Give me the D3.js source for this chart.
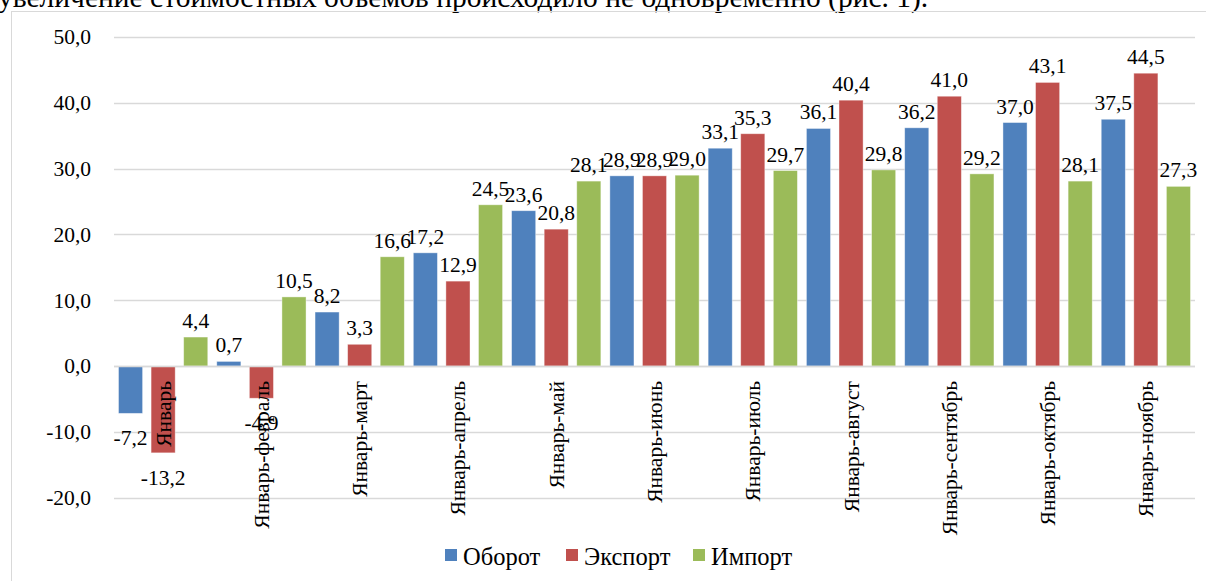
<!DOCTYPE html>
<html lang="ru">
<head>
    <meta charset="UTF-8">
    <title>Оборот, экспорт, импорт</title>
    <style>
        body {
            margin: 0;
            background: #ffffff;
            overflow: hidden;
        }
    </style>
</head>
<body>
    <svg id="chart" width="1206" height="581"></svg>

    <script src="https://d3js.org/d3.v7.min.js"></script>
    <script>
        // data
        const categories = ["Январь", "Январь-февраль", "Январь-март", "Январь-апрель", "Январь-май",
            "Январь-июнь", "Январь-июль", "Январь-август", "Январь-сентябрь", "Январь-октябрь", "Январь-ноябрь"];
        const seriesNames = ["Оборот", "Экспорт", "Импорт"];
        const oborot  = [-7.2, 0.7, 8.2, 17.2, 23.6, 28.9, 33.1, 36.1, 36.2, 37.0, 37.5];
        const eksport = [-13.2, -4.9, 3.3, 12.9, 20.8, 28.9, 35.3, 40.4, 41.0, 43.1, 44.5];
        const import_ = [4.4, 10.5, 16.6, 24.5, 28.1, 29.0, 29.7, 29.8, 29.2, 28.1, 27.3];
        const yTicks = [-20, -10, 0, 10, 20, 30, 40, 50];
        const colors = ["#4F81BD", "#C0504D", "#9BBB59"];

        const seriesValues = [oborot, eksport, import_];
        const serif = "'Liberation Serif', 'Times New Roman', serif";

        const svg = d3.select("#chart")
            .attr("font-family", serif)
            .attr("font-size", 21.5);

        // caption line cut off at the top of the picture
        svg.append("text")
            .attr("x", -2)
            .attr("y", 7)
            .attr("font-size", 29.5)
            .text("увеличение стоимостных объемов происходило не одновременно (рис. 1).");

        // chart frame
        svg.append("rect")
            .attr("x", 11.5)
            .attr("y", 11.5)
            .attr("width", 1300)
            .attr("height", 700)
            .attr("fill", "none")
            .attr("stroke", "#d9d9d9");

        const plot = { left: 114, right: 1195, top: 37, bottom: 497.6 };

        const x = d3.scaleBand()
            .domain(categories)
            .range([plot.left, plot.right])
            .padding(0);

        const xSub = d3.scaleBand()
            .domain(seriesNames)
            .range([4.5, x.bandwidth() - 4.5])
            .paddingInner(0.26)
            .paddingOuter(0);

        const y = d3.scaleLinear()
            .domain([-20, 50])
            .range([plot.bottom, plot.top]);

        const fmt = v => d3.format(".1f")(v).replace(".", ",").replace("−", "-");

        // gridlines
        svg.append("g")
            .selectAll("line")
            .data(yTicks)
            .join("line")
            .attr("x1", plot.left)
            .attr("x2", plot.right)
            .attr("y1", d => Math.round(y(d)) + 0.5)
            .attr("y2", d => Math.round(y(d)) + 0.5)
            .attr("stroke", "#d9d9d9")
            .attr("stroke-width", 1.3);

        // y axis labels
        const yAxis = svg.append("g")
            .attr("transform", "translate(91,0)")
            .call(d3.axisLeft(y).tickValues(yTicks).tickSize(0).tickPadding(0).tickFormat(fmt));
        yAxis.attr("font-family", serif).attr("font-size", 21.5);
        yAxis.select(".domain").remove();

        const rows = categories.map((c, i) => ({
            cat: c,
            vals: seriesNames.map((s, j) => ({ series: s, idx: j, value: seriesValues[j][i] }))
        }));

        const groups = svg.append("g")
            .selectAll("g")
            .data(rows)
            .join("g")
            .attr("transform", d => `translate(${x(d.cat)},0)`);

        groups.selectAll("rect")
            .data(d => d.vals)
            .join("rect")
            .attr("x", d => xSub(d.series))
            .attr("width", xSub.bandwidth())
            .attr("y", d => y(Math.max(0, d.value)))
            .attr("height", d => Math.abs(y(d.value) - y(0)))
            .attr("fill", d => colors[d.idx])
            .attr("stroke", "#ffffff")
            .attr("stroke-opacity", 0.5)
            .attr("stroke-width", 0.8);

        // zero line on top of bars
        svg.append("line")
            .attr("x1", plot.left)
            .attr("x2", plot.right)
            .attr("y1", Math.round(y(0)) + 0.5)
            .attr("y2", Math.round(y(0)) + 0.5)
            .attr("stroke", "#d9d9d9")
            .attr("stroke-width", 1.5);

        // category labels, rotated
        svg.append("g")
            .selectAll("text")
            .data(categories)
            .join("text")
            .attr("transform", d => `translate(${x(d) + x.bandwidth() / 2},${y(0) + 15}) rotate(-90)`)
            .attr("text-anchor", "end")
            .attr("dy", "0.35em")
            .text(d => d);

        // value labels
        groups.selectAll("text.val")
            .data(d => d.vals)
            .join("text")
            .attr("class", "val")
            .attr("x", d => xSub(d.series) + xSub.bandwidth() / 2)
            .attr("y", d => d.value >= 0 ? y(d.value) - 9 : y(d.value) + 32)
            .attr("text-anchor", "middle")
            .text(d => fmt(d.value));

        // legend
        const legendX = [445, 566, 693];
        const legend = svg.append("g")
            .selectAll("g")
            .data(seriesNames)
            .join("g")
            .attr("transform", (d, i) => `translate(${legendX[i]},549)`);
        legend.append("rect")
            .attr("width", 12)
            .attr("height", 12)
            .attr("fill", (d, i) => colors[i]);
        legend.append("text")
            .attr("x", 18)
            .attr("y", 16)
            .attr("font-size", 24.5)
            .text(d => d);
    </script>
</body>
</html>
